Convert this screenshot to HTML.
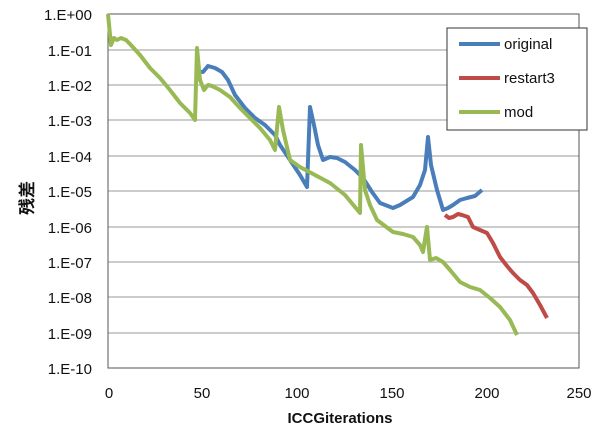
<!DOCTYPE html><html><head><style>body{margin:0;background:#fff}svg{display:block}text{font-family:"Liberation Sans","Noto Sans CJK JP",sans-serif;font-size:15px;fill:#111}</style></head><body>
<svg width="600" height="433" xmlns="http://www.w3.org/2000/svg">
<g stroke="#bbb" stroke-width="1.5">
<line x1="108" x2="579" y1="50" y2="50"/><line x1="108" x2="579" y1="85" y2="85"/><line x1="108" x2="579" y1="120" y2="120"/><line x1="108" x2="579" y1="156" y2="156"/><line x1="108" x2="579" y1="191" y2="191"/><line x1="108" x2="579" y1="227" y2="227"/><line x1="108" x2="579" y1="262" y2="262"/><line x1="108" x2="579" y1="297" y2="297"/><line x1="108" x2="579" y1="333" y2="333"/>
</g>
<rect x="108" y="14" width="471" height="354" fill="none" stroke="#555" stroke-width="1"/>
<g text-anchor="end"><text x="92" y="20">1.E+00</text><text x="92" y="56">1.E-01</text><text x="92" y="91">1.E-02</text><text x="92" y="126">1.E-03</text><text x="92" y="162">1.E-04</text><text x="92" y="197">1.E-05</text><text x="92" y="233">1.E-06</text><text x="92" y="268">1.E-07</text><text x="92" y="303">1.E-08</text><text x="92" y="339">1.E-09</text><text x="92" y="374">1.E-10</text></g>
<g text-anchor="middle"><text x="109" y="398">0</text><text x="202" y="398">50</text><text x="297" y="398">100</text><text x="392" y="398">150</text><text x="487" y="398">200</text><text x="579" y="398">250</text>
<text x="340" y="423" font-weight="bold">ICCGiterations</text></g>
<text x="0" y="0" transform="translate(33,198) rotate(-90)" text-anchor="middle" font-weight="bold" style="font-size:17px">残差</text>
<g fill="none" stroke-width="4" stroke-linejoin="round">
<polyline stroke="#4a7ebb" points="197,72 203,72 208,66 215,68 222,72 228,80 235,95 245,108 255,118 265,125 275,135 280,145 290,160 300,175 307,187 310,107 314,125 318,145 323,160 330,157 337,158 345,162 355,170 363,178 372,192 380,203 393,208 400,205 413,197 420,185 425,170 428,137 431,165 437,190 443,210 448,208 453,205 460,200 467,198 475,196 482,190"/>
<polyline stroke="#be4b48" points="445,215 449,218 453,217 458,214 462,215 468,217 473,227 480,230 487,233 493,243 500,257 507,266 513,273 520,280 527,285 533,293 540,305 547,318"/>
<polyline stroke="#98b954" points="108,14 111,45 114,38 117,40 121,38 126,40 130,44 140,55 150,68 160,78 170,90 180,103 190,113 195,120 197,48 200,80 204,90 208,85 212,86 220,90 230,97 240,108 250,118 260,128 270,140 275,150 279,107 283,130 290,160 300,167 315,175 330,183 345,195 355,207 360,213 361,145 365,190 370,205 377,220 385,226 393,232 403,234 413,237 420,245 423,252 427,227 430,260 436,258 443,262 450,270 460,282 470,287 480,290 490,298 500,307 510,320 517,335"/>
</g>
<rect x="447" y="28" width="140" height="102" fill="#fff" stroke="#333"/>
<g stroke-width="4"><line x1="459" x2="500" y1="44" y2="44" stroke="#4a7ebb"/><line x1="459" x2="500" y1="78" y2="78" stroke="#be4b48"/><line x1="459" x2="500" y1="112" y2="112" stroke="#98b954"/></g>
<text x="504" y="49">original</text><text x="504" y="83">restart3</text><text x="504" y="117">mod</text>
</svg></body></html>
